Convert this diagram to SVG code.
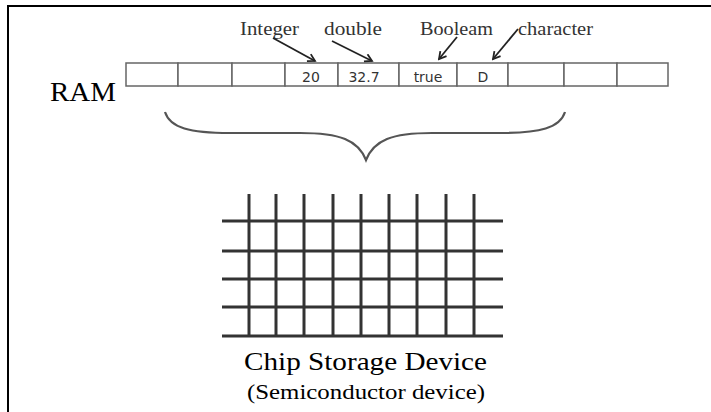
<svg xmlns="http://www.w3.org/2000/svg" width="711" height="412" viewBox="0 0 711 412">
<defs>
<marker id="ah" markerWidth="10" markerHeight="10" refX="8" refY="5" orient="auto" markerUnits="userSpaceOnUse">
<path d="M1,1 L8,5 L1,9" fill="none" stroke="#222" stroke-width="1.8"/>
</marker>
</defs>
<style>
.frame{stroke:#000;stroke-width:2;fill:none}
.cell{fill:#fff;stroke:#666;stroke-width:1.5}
.val{font-family:"DejaVu Sans","Liberation Sans",sans-serif;font-size:14px;fill:#333;text-anchor:middle}
.lbl{font-family:"Liberation Serif",serif;font-size:18px;fill:#333}
.big{font-family:"Liberation Serif",serif;fill:#000}
.arr{stroke:#222;stroke-width:1.8;fill:none;marker-end:url(#ah)}
.grid line{stroke:#333;stroke-width:3}
</style>
<rect width="711" height="412" fill="#fff"/>
<path class="frame" d="M8,412 V6 H711"/>

<g id="ram-label"><text class="big" x="50" y="101" font-size="28" textLength="66" lengthAdjust="spacingAndGlyphs">RAM</text></g>

<g id="ram">
<rect class="cell" x="126" y="63" width="52" height="23"/>
<rect class="cell" x="178" y="63" width="54" height="23"/>
<rect class="cell" x="232" y="63" width="53" height="23"/>
<rect class="cell" x="285" y="63" width="53" height="23"/>
<rect class="cell" x="338" y="63" width="61" height="23"/>
<rect class="cell" x="399" y="63" width="58" height="23"/>
<rect class="cell" x="457" y="63" width="51" height="23"/>
<rect class="cell" x="508" y="63" width="56" height="23"/>
<rect class="cell" x="564" y="63" width="53" height="23"/>
<rect class="cell" x="617" y="63" width="51" height="23"/>
<text class="val" x="311" y="82">20</text>
<text class="val" x="364" y="82">32.7</text>
<text class="val" x="428" y="82">true</text>
<text class="val" x="483" y="82">D</text>
</g>

<g id="lbl-integer"><text class="lbl" x="240" y="35" textLength="59" lengthAdjust="spacingAndGlyphs">Integer</text></g>
<g id="lbl-double"><text class="lbl" x="324" y="35" textLength="58" lengthAdjust="spacingAndGlyphs">double</text></g>
<g id="lbl-boolean"><text class="lbl" x="420" y="35" textLength="73" lengthAdjust="spacingAndGlyphs">Booleam</text></g>
<g id="lbl-character"><text class="lbl" x="518" y="35" textLength="75" lengthAdjust="spacingAndGlyphs">character</text></g>

<g id="connectors">
<line class="arr" x1="273" y1="38" x2="315" y2="61"/>
<line class="arr" x1="332" y1="41" x2="372" y2="61"/>
<line class="arr" x1="457" y1="37" x2="439" y2="59"/>
<line class="arr" x1="518" y1="29" x2="493" y2="59"/>
</g>

<g id="brace">
<path d="M165,112 C170,128 190,133 230,133 L300,133 C340,133 358,140 366,160 C374,140 392,133 432,133 L500,133 C540,133 560,128 565,112" fill="none" stroke="#555" stroke-width="2.2"/>
</g>

<g id="chip" class="grid">
<line x1="249" y1="194" x2="249" y2="336"/>
<line x1="276" y1="194" x2="276" y2="336"/>
<line x1="304" y1="194" x2="304" y2="336"/>
<line x1="333" y1="194" x2="333" y2="336"/>
<line x1="361" y1="194" x2="361" y2="336"/>
<line x1="389" y1="194" x2="389" y2="336"/>
<line x1="417" y1="194" x2="417" y2="336"/>
<line x1="446" y1="194" x2="446" y2="336"/>
<line x1="474" y1="194" x2="474" y2="336"/>
<line x1="222" y1="221" x2="503" y2="221"/>
<line x1="222" y1="251" x2="503" y2="251"/>
<line x1="222" y1="279" x2="503" y2="279"/>
<line x1="222" y1="307" x2="503" y2="307"/>
<line x1="222" y1="336" x2="503" y2="336"/>
</g>

<g id="chip-label">
<text class="big" x="244" y="370" font-size="26" textLength="243" lengthAdjust="spacingAndGlyphs">Chip Storage Device</text>
<text class="big" x="247" y="399" font-size="22" textLength="238" lengthAdjust="spacingAndGlyphs">(Semiconductor device)</text>
</g>
</svg>
